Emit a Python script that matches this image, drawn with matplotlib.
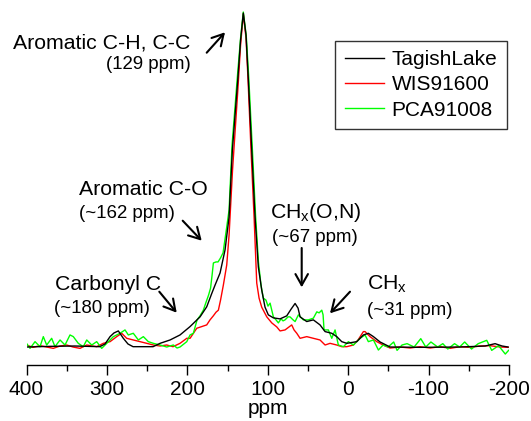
import matplotlib
matplotlib.use("Agg")
import matplotlib.pyplot as plt

plt.rcParams['font.family'] = ['Liberation Sans', 'DejaVu Sans']
plt.rcParams['mathtext.fontset'] = 'custom'
plt.rcParams['mathtext.rm'] = 'Liberation Sans'
plt.rcParams['mathtext.it'] = 'Liberation Sans'

# ---------------- data (ppm, normalised intensity) ----------------
tagish_ppm = [400, 370, 340, 309, 302.4, 296.1, 291.2, 285.8, 279.6, 273.8, 267.5, 242.6,
              233.9, 221.5, 209.1, 196.6, 184.2, 175.9, 169.6, 165.5, 159.3, 153.1, 148.1,
              144, 137.3, 133.8, 130.4, 127, 124.1, 119.9, 115.8, 111.7, 107.5, 103.4, 99.3,
              93.0, 84.7, 76.4, 71.0, 66.0, 62.3, 59.8, 51.5, 43.3, 35.0, 28.7, 20.4, 14.2,
              8.0, 1.7, -10.7, -18.9, -25.1, -31.4, -39.7, -52.1, -89.4, -139.2, -170.3,
              -182.7, -191.4, -198.9]
tagish_int = [0.0, 0.2, 0.3, 0.1, 0.9, 3.1, 4.2, 4.8, 2.6, 0.9, 0.1, 0.1,
              1.1, 2.1, 3.6, 6.1, 9.0, 12.0, 16.0, 18.5, 22.1, 29.0, 38.8,
              58.8, 79.7, 91.6, 99.7, 93.1, 79.7, 58.8, 38.8, 23.9, 17.0, 11.9, 9.6,
              8.7, 8.4, 9.3, 11.3, 13.0, 11.6, 9.0, 7.6, 8.1, 6.6, 4.6, 4.1, 3.1,
              1.6, 1.1, 1.6, 3.6, 4.1, 3.1, 1.5, 0.0, -0.1, 0.0, 0.3,
              1.0, 0.3, 0.0]

wis_ppm = [400, 392, 383.2, 374.9, 366.7, 358.3, 350, 342.2, 333.5, 325.1, 312.7, 304.5,
           296.1, 287.8, 281.6, 275.4, 267.2, 258.8, 250.5, 242.3, 233.9, 225.6, 217.8,
           209.1, 200.7, 196.6, 188.3, 182.1, 175.9, 171.8, 167.7, 164.3, 161.4, 158.7,
           155.2, 151, 148.1, 143.8, 137.2, 133.8, 130.4, 127, 124.5, 120.8, 117, 113.7,
           110.8, 107.5, 101.2, 95, 88.8, 84.7, 78.5, 73.5, 70.2, 67.3, 63.9, 59.8, 51.5,
           43.3, 35, 28.7, 22.5, 14.2, 8, 1.7, -6.5, -12.3, -18.9, -21, -27.2, -35.6,
           -43.4, -52.1, -64.6, -77, -89.4, -101.9, -114.3, -126.7, -139.2, -151.6,
           -164.1, -176.5, -189, -198.9]
wis_int = [0.6, -0.1, 0.4, 0.0, -0.4, 0.3, 0.6, 0.0, -0.4, 0.6, 0.1, 1.1,
           1.6, 3.1, 4.1, 2.6, 2.1, 1.6, 1.1, 0.6, 0.3, 0.6, 0.1,
           1.1, 2.6, 2.6, 5.6, 6.1, 6.6, 8.1, 9.3, 10.4, 11.0, 14.0,
           18.5, 24.5, 33.4, 52.8, 76.7, 90.1, 99.4, 92.2, 79.7, 58.8, 38.8, 19.1,
           14.6, 11.9, 9.0, 7.2, 6.0, 4.8, 5.1, 6.0, 6.6, 5.1, 4.1, 2.6, 3.1,
           2.6, 2.1, 0.6, 1.1, 0.6, 0.1, 0.1, 0.6, 2.1, 4.6, 4.6, 3.1, 1.6,
           0.6, -0.3, 0.0, -0.3, 0.1, -0.3, 0.1, -0.4, 0.1, -0.1,
           0.3, 0.4, 0.0, -0.1]

pca_ppm = [400, 395.6, 389.4, 383.2, 379.1, 374.9, 368.7, 364.6, 358.3, 352.1, 345.9, 341.8,
           335.6, 329.4, 325.1, 318.9, 312.7, 306.5, 300.2, 292, 283.7, 277.5, 273.4, 267.2,
           260.9, 254.7, 248.5, 242.3, 233.9, 225.6, 217.4, 212.8, 209.1, 200.7, 196.6,
           192.5, 187.9, 184.2, 180.1, 176.7, 173.6, 171.1, 169.2, 167.6, 164.3, 161.8,
           158.7, 155.6, 151.9, 148.1, 144.4, 137.6, 133.8, 130.4, 126.7, 123.6, 119.2,
           115.2, 111.6, 108.4, 105.5, 102.2, 99.7, 97.1, 93.0, 89.7, 86.8, 83.5, 81, 78.5,
           74.8, 72.3, 68.5, 66, 61.9, 55.7, 49.5, 43.3, 39.0, 36.1, 32.8, 31.2, 30.0, 24.6,
           20.4, 16.3, 12.2, 5.9, -0.3, -6.5, -14.8, -21, -25.1, -31.4, -37.6, -43.4,
           -49.6, -56.6, -60.8, -67, -73.3, -82, -90.3, -96.5, -102.9, -111.3, -117.7,
           -123.9, -132.3, -138.6, -144.9, -153.4, -161.7, -172.3, -178.5, -187, -195.4,
           -199.5]
pca_int = [1.1, -0.4, 1.6, 0.1, 3.1, 0.6, 2.6, 0.1, 2.1, 0.6, 3.6, 3.1,
           1.1, 0.1, 2.1, 0.6, 1.6, -0.4, 1.1, 3.1, 4.1, 5.1, 3.6, 4.1,
           2.1, 3.1, 1.6, 1.1, 0.6, 0.0, 0.6, -0.3, 0.0, 1.6, 3.6,
           4.1, 8.1, 9.3, 11.0, 13.4, 15.5, 17.6, 21.5, 25.1, 25.4, 25.4,
           26.6, 28.1, 34.3, 40.9, 60.3, 81.2, 92.2, 100, 92.8, 80.3, 59.4,
           39.4, 25.4, 18.5, 14.6, 14.0, 12.2, 13.1, 9.0, 8.1, 7.2, 8.4, 7.8, 8.1,
           9.0, 9.0, 8.1, 7.6, 9.6, 8.1, 8.1, 8.6, 10.5, 10.2, 11.0, 9.6, 5.1, 5.1,
           2.6, 5.1, 0.6, 0.1, 1.6, 0.6, 2.6, 3.6, 1.6, 2.1, -0.9, 0.6,
           0.0, 1.5, -1.0, 0.6, 1.0, 0.0, 2.5, 0.0, 1.5, 0.0, 1.0,
           -0.6, 1.0, 0.0, 1.5, -0.6, 1.0, 2.0, -1.0, 0.4, -2.1,
           -1.0]

series_names = ["TagishLake", "WIS91600", "PCA91008"]
series_colors = ["#000000", "#ff0000", "#00ff00"]
xticks = [400, 300, 200, 100, 0, -100, -200]
xlabel = "ppm"

W, H = 531, 421


def px(x, y):
    """top-left pixel -> figure fraction"""
    return (x / W, 1 - y / H)


fig = plt.figure(figsize=(W / 100, H / 100), dpi=100)
ax = fig.add_axes([26.5 / W, 56.5 / H, (509 - 26.5) / W, 359.5 / H])

lines = {}
for name, xs, ys, c in [(series_names[1], wis_ppm, wis_int, series_colors[1]),
                        (series_names[2], pca_ppm, pca_int, series_colors[2]),
                        (series_names[0], tagish_ppm, tagish_int, series_colors[0])]:
    lines[name], = ax.plot(xs, ys, color=c, lw=1.0, label=name)

ax.set_xlim(400, -200)
ax.set_ylim(-5.22, 102.1)
for s in ['top', 'left', 'right']:
    ax.spines[s].set_visible(False)
ax.spines['bottom'].set_linewidth(1.0)
ax.set_yticks([])
ax.set_xticks(xticks)
ax.set_xticklabels([str(t) for t in xticks])
ax.set_xticks([350, 250, 150, 50, -50, -150], minor=True)
ax.tick_params(axis='x', which='major', direction='out', length=7.5, width=1.0,
               labelsize=15, pad=4)
ax.tick_params(axis='x', which='minor', direction='out', length=4.5, width=1.0)
ax.set_xlabel(xlabel, fontsize=15, labelpad=0)

leg = ax.legend(handles=[lines[n] for n in series_names], loc='upper right',
                bbox_to_anchor=px(506.7, 40.7), bbox_transform=fig.transFigure,
                fontsize=15, frameon=True, fancybox=False, edgecolor='#333333',
                framealpha=1, borderaxespad=0, handlelength=1.9, handletextpad=0.35,
                labelspacing=0.3, borderpad=0.45)
leg.get_frame().set_linewidth(1.0)

# ---------------- annotations ----------------
big, small = 15.3, 13.4
def txt(x, y, s, size, ha='left'):
    fig.text(*px(x, y), s, fontsize=size, ha=ha, va='baseline')

def arrow(x0, y0, x1, y1):
    fig.add_artist(matplotlib.patches.FancyArrowPatch(
        px(x0, y0), px(x1, y1), transform=fig.transFigure,
        arrowstyle='->,head_length=8,head_width=4.5', lw=1.5, color='black',
        shrinkA=0, shrinkB=0))

txt(190, 48.3, "Aromatic C-H, C-C", big, ha='right')
txt(191, 69, "(129 ppm)", small, ha='right')
arrow(206.7, 52.7, 225, 32.3)

txt(79, 195, "Aromatic C-O", big)
txt(79, 218.3, "(~162 ppm)", small)
arrow(182.7, 220.7, 201.7, 240.7)

txt(55, 290, "Carbonyl C", big)
txt(54, 312.7, "(~180 ppm)", small)
arrow(159.3, 291.7, 176.7, 312.7)

txt(270, 218, r"CH$_\mathregular{x}$(O,N)", big)
txt(271.7, 242, "(~67 ppm)", small)
arrow(301.7, 248, 301.7, 287.3)

txt(366.7, 290, r"CH$_\mathregular{x}$", big)
txt(366.7, 315, "(~31 ppm)", small)
arrow(350, 291.7, 330, 313.3)

fig.savefig("out.png", dpi=100)
